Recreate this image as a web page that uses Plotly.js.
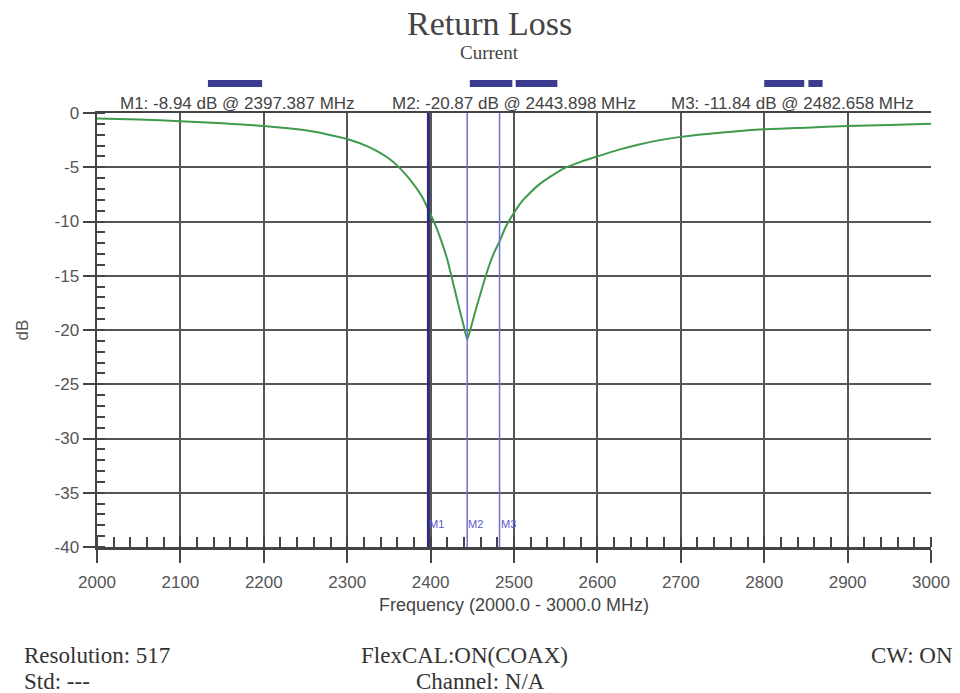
<!DOCTYPE html>
<html>
<head>
<meta charset="utf-8">
<script src="https://cdn.plot.ly/plotly-3.0.1.min.js"></script>
<style>html,body{margin:0;padding:0;background:#fff;}#chart{width:960px;height:693px;}</style>
</head>
<body>
<div id="chart"></div>
<script>
// Return loss trace (MHz, dB)
const freqMHz = [2000, 2050, 2100, 2150, 2200, 2250, 2275, 2300, 2325, 2340, 2350, 2360, 2370, 2380, 2390, 2397.387, 2405, 2412, 2420, 2428, 2435, 2440, 2443.898, 2450, 2455, 2460, 2465, 2470, 2476, 2482.658, 2490, 2500, 2510, 2520, 2530, 2545, 2560, 2580, 2600, 2625, 2650, 2675, 2700, 2750, 2800, 2850, 2900, 2950, 3000];
const returnLossDb = [-0.5, -0.6, -0.75, -0.95, -1.2, -1.6, -1.95, -2.4, -3.1, -3.7, -4.2, -4.85, -5.65, -6.6, -7.75, -8.94, -10.2, -11.6, -13.5, -16.0, -18.2, -19.7, -20.87, -19.3, -17.9, -16.6, -15.3, -14.1, -12.9, -11.84, -10.5, -9.2, -8.1, -7.3, -6.6, -5.8, -5.1, -4.5, -4.0, -3.4, -2.9, -2.5, -2.2, -1.8, -1.5, -1.35, -1.2, -1.1, -1.0];

// Markers
const markerNames = ["M1", "M2", "M3"];
const markerFreq = [2397.387, 2443.898, 2482.658];
const markerDb = [-8.94, -20.87, -11.84];

// Band indicator bars above the plot (MHz ranges)
const bandStart = [2133, 2447, 2502, 2800, 2853];
const bandEnd = [2198, 2498, 2552, 2848, 2870];

const xTickVals = [2000, 2100, 2200, 2300, 2400, 2500, 2600, 2700, 2800, 2900, 3000];
const yTickVals = [0, -5, -10, -15, -20, -25, -30, -35, -40];

const footerLeft = ["Resolution: 517", "Std: ---"];
const footerCenter = ["FlexCAL:ON(COAX)", "Channel: N/A"];
const footerRight = ["CW: ON"];

const serif = "Liberation Serif, Times New Roman, serif";
const sans = "Liberation Sans, Arial, sans-serif";

const shapes = [];
markerFreq.forEach((f, i) => {
  shapes.push({type: 'line', xref: 'x', yref: 'paper', x0: f, x1: f, y0: 0, y1: 1,
    line: {color: i === 0 ? '#2b2b7a' : '#6f6fd8', width: i === 0 ? 3 : 1.5}});
});
bandStart.forEach((s, i) => {
  shapes.push({type: 'rect', xref: 'x', yref: 'paper', x0: s, x1: bandEnd[i], y0: 1.060, y1: 1.076,
    fillcolor: '#3b3b8f', line: {width: 0}});
});

function ann(text, x, y, xanchor, font, xref) {
  return {text: text, xref: xref || 'paper', yref: 'paper', x: x, y: y, xanchor: xanchor, yanchor: 'middle',
    showarrow: false, font: font};
}

const annotations = [
  ann('Return Loss', 0.471, 1.207, 'center', {family: serif, size: 34, color: '#444'}),
  ann('Current', 0.471, 1.140, 'center', {family: serif, size: 19, color: '#444'}),
];
const mTextX = [0.1685, 0.5, 0.834];
markerFreq.forEach((f, i) => {
  annotations.push(ann(`${markerNames[i]}: ${markerDb[i].toFixed(2)} dB @ ${f.toFixed(3)} MHz`,
    mTextX[i], 1.023, 'center', {family: sans, size: 17, color: '#444'}));
  const a = ann(markerNames[i], f, 0.053, 'left', {family: sans, size: 11, color: '#5a5ad0'}, 'x');
  a.xshift = -1;
  annotations.push(a);
});
const footFont = {family: serif, size: 23, color: '#333'};
annotations.push(ann(footerLeft[0], -0.0899, -0.249, 'left', footFont));
annotations.push(ann(footerLeft[1], -0.0899, -0.309, 'left', footFont));
annotations.push(ann(footerCenter[0], 0.441, -0.249, 'center', footFont));
annotations.push(ann(footerCenter[1], 0.460, -0.309, 'center', footFont));
annotations.push(ann(footerRight[0], 1.0288, -0.249, 'right', footFont));

const trace = {
  x: freqMHz, y: returnLossDb, type: 'scatter', mode: 'lines',
  line: {color: '#3f9a4c', width: 2, shape: 'spline', smoothing: 0.5},
  hoverinfo: 'x+y'
};

const layout = {
  width: 960, height: 693,
  margin: {l: 97, r: 29, t: 113, b: 146},
  paper_bgcolor: '#ffffff', plot_bgcolor: '#ffffff',
  showlegend: false,
  xaxis: {
    range: [2000, 3000], tickvals: xTickVals, ticktext: xTickVals.map(String),
    showgrid: true, gridcolor: '#555', gridwidth: 2,
    showline: true, linecolor: '#444', linewidth: 2.5, mirror: true,
    ticks: 'outside', ticklen: 13, tickwidth: 2, tickcolor: '#444',
    ticklabelstandoff: 5,
    minor: {dtick: 20, tick0: 2000, ticks: 'inside', ticklen: 10, tickwidth: 2, tickcolor: '#444', showgrid: false},
    tickfont: {family: sans, size: 17, color: '#555'},
    title: {text: 'Frequency (2000.0 - 3000.0 MHz)', font: {family: sans, size: 18, color: '#444'}, standoff: 8},
    zeroline: false
  },
  yaxis: {
    range: [-40, 0], tickvals: yTickVals, ticktext: yTickVals.map(String),
    showgrid: true, gridcolor: '#555', gridwidth: 2,
    showline: true, linecolor: '#444', linewidth: 2.5,
    ticks: 'outside', ticklen: 12, tickwidth: 2, tickcolor: '#444',
    minor: {dtick: 1, tick0: 0, ticks: 'inside', ticklen: 8, tickwidth: 2, tickcolor: '#444', showgrid: false},
    tickfont: {family: sans, size: 17, color: '#555'},
    title: {text: 'dB', font: {family: sans, size: 17, color: '#555'}, standoff: 22},
    zeroline: false
  },
  shapes: shapes,
  annotations: annotations
};

Plotly.newPlot('chart', [trace], layout, {displayModeBar: false, staticPlot: true});
</script>
</body>
</html>
